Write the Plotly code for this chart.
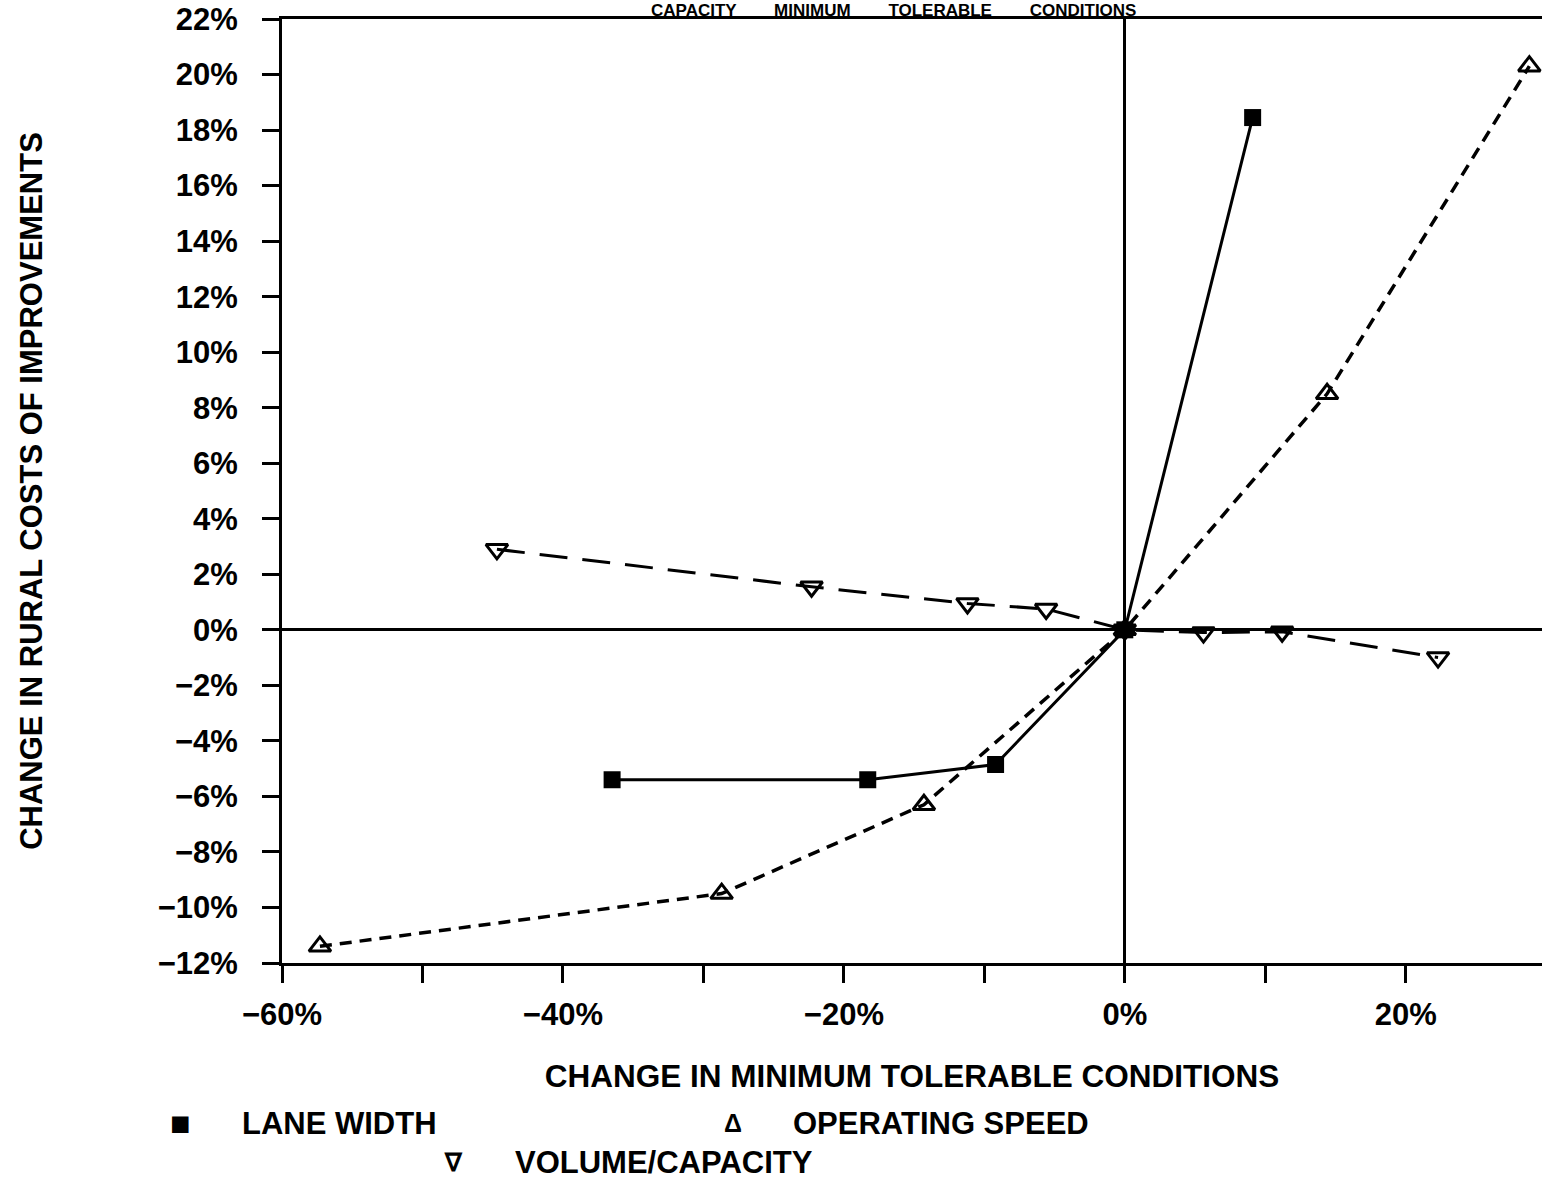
import plotly.graph_objects as go

# Sensitivity of rural improvement costs to minimum tolerable conditions (%)
lane_x = [-36.5, -18.3, -9.2, 0.0, 9.1]
lane_y = [-5.4, -5.4, -4.85, 0.0, 18.45]

speed_x = [-57.3, -28.7, -14.3, 0.0, 14.4, 28.8]
speed_y = [-11.4, -9.5, -6.3, 0.0, 8.5, 20.3]

vc_x = [-44.7, -22.3, -11.2, -5.6, 0.0, 5.6, 11.2, 22.3]
vc_y = [2.9, 1.55, 0.95, 0.75, 0.0, -0.1, -0.07, -1.0]

x_tickvals = [-60, -50, -40, -30, -20, -10, 0, 10, 20]
x_ticktext = ["−60%", "", "−40%", "", "−20%", "", "0%", "", "20%"]
y_tickvals = list(range(-12, 23, 2))
y_ticktext = [("−" if v < 0 else "") + f"{abs(v)}%" for v in y_tickvals]

FONT = "Liberation Sans, Arial, sans-serif"
W, H = 1542, 1186
L, T, B, R = 282, 19, 223, 0


def bold(size):
    return dict(family=FONT, size=size, color="black", weight="bold")


fig = go.Figure()
fig.add_trace(go.Scatter(
    x=vc_x, y=vc_y, mode="lines+markers", name="VOLUME/CAPACITY",
    line=dict(color="black", width=3, dash="28px,15px"),
    marker=dict(symbol="triangle-down-open", size=19, color="black",
                line=dict(width=3, color="black")),
))
fig.add_trace(go.Scatter(
    x=speed_x, y=speed_y, mode="lines+markers", name="OPERATING SPEED",
    line=dict(color="black", width=3.5, dash="12px,8px"),
    marker=dict(symbol="triangle-up-open", size=19, color="black",
                line=dict(width=3, color="black")),
))
fig.add_trace(go.Scatter(
    x=lane_x, y=lane_y, mode="lines+markers", name="LANE WIDTH",
    line=dict(color="black", width=3),
    marker=dict(symbol="square", size=17, color="black"),
))

fig.update_xaxes(
    range=[-60, 29.7], tickvals=x_tickvals, ticktext=x_ticktext,
    ticks="outside", ticklen=17, tickwidth=3, tickcolor="black",
    showline=True, linewidth=3, linecolor="black", mirror=True,
    showgrid=False, zeroline=True, zerolinecolor="black", zerolinewidth=3,
    tickfont=bold(31), ticklabelstandoff=5,
    title=dict(text="CHANGE IN MINIMUM TOLERABLE CONDITIONS",
               font=bold(31.5), standoff=34),
)
fig.update_yaxes(
    range=[-12, 22], tickvals=y_tickvals, ticktext=y_ticktext,
    ticks="outside", ticklen=17, tickwidth=3, tickcolor="black",
    showline=True, linewidth=3, linecolor="black", mirror=False,
    showgrid=False, zeroline=True, zerolinecolor="black", zerolinewidth=3,
    tickfont=bold(31), ticklabelstandoff=18,
    title=dict(text="CHANGE IN RURAL COSTS OF IMPROVEMENTS",
               font=bold(31), standoff=106),
)


def px_x(p):
    return (p - L) / (W - L - R)


def px_y(p):
    return (H - B - p) / (H - T - B)


annotations = [
    dict(text="CAPACITY        MINIMUM        TOLERABLE        CONDITIONS",
         x=px_x(893), y=px_y(0), xanchor="center", yanchor="top",
         font=bold(17), borderpad=0),
]
legend_items = [
    ("■", "LANE WIDTH", 180, 240, 1123, 34),
    ("Δ", "OPERATING SPEED", 733, 791, 1123, 25),
    ("∇", "VOLUME/CAPACITY", 453, 513, 1162, 25),
]
for sym, label, sx, lx, ly, ss in legend_items:
    annotations.append(dict(text=sym, x=px_x(sx), y=px_y(ly), xanchor="center",
                            yanchor="middle", font=bold(ss)))
    annotations.append(dict(text=label, x=px_x(lx), y=px_y(ly), xanchor="left",
                            yanchor="middle", font=bold(31)))
for a in annotations:
    a.update(xref="paper", yref="paper", showarrow=False)

fig.update_layout(
    width=W, height=H, margin=dict(l=L, r=R, t=T, b=B),
    paper_bgcolor="white", plot_bgcolor="white",
    showlegend=False, annotations=annotations,
    font=dict(family=FONT, color="black"),
)

fig.write_html("out.html")
